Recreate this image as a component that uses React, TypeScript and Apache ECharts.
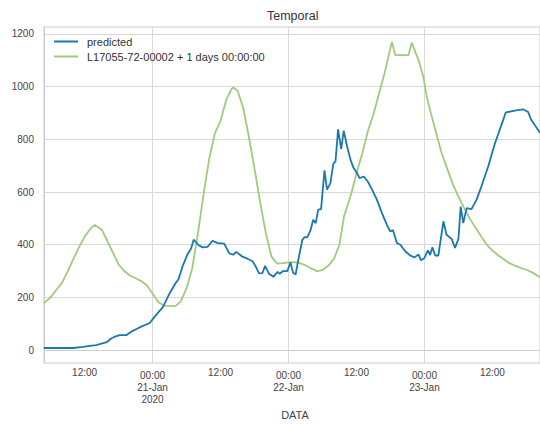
import React, { useEffect, useRef } from "react";
import * as echarts from "echarts";

// x values are hours since 2020-01-20 00:00.
const START_YEAR = 2020;
const START_DAY = 20;
const START_MONTH = "Jan";
const X_MIN_H = 4.835;
const X_MAX_H = 92.4;

const yTicks = [0, 200, 400, 600, 800, 1000, 1200];
const gridHours = [24, 48, 72];
const labelHours = [12, 24, 36, 48, 60, 72, 84];

const predictedHours = [
  4.8, 10, 11.75, 12.9, 14.1, 15, 15.9, 16.75, 17.5, 18.2, 19.4, 20.25, 21.7, 23.5,
  24.35, 25.2, 25.8, 27, 28, 28.6, 29.35, 30.2, 30.8, 31.25, 32.15, 32.85, 33.7,
  34.6, 35.5, 36.65, 37.55, 38.25, 38.8, 39.75, 40.75, 41.65, 42.25, 42.8, 43.4,
  43.85, 44.55, 45.35, 46.05, 46.45, 47.05, 47.8, 48.35, 48.8, 49.25, 49.85, 50.45,
  50.85, 51.3, 51.9, 52.35, 52.8, 53.25, 53.75, 54.35, 54.8, 55.4, 55.9, 56.3,
  56.75, 57.3, 57.75, 58.35, 58.95, 59.5, 60.1, 60.55, 61.3, 62, 62.75, 63.6, 64.5,
  65.35, 65.95, 66.45, 67.15, 67.75, 68.6, 69.5, 70.25, 70.95, 71.4, 72, 72.6, 73,
  73.4, 73.9, 74.45, 75.35, 75.9, 76.8, 77.4, 78, 78.4, 78.85, 79.45, 80.3, 81.2,
  82.05, 83.25, 84.45, 85.6, 86.35, 87.95, 89.4, 90.3, 90.85, 92.4,
];
const predictedValues = [
  8, 8, 12, 16, 19, 25, 30, 45, 52, 57, 57, 70, 86, 103,
  126, 148, 162, 215, 252, 270, 321, 365, 386, 419, 398, 390, 392,
  415, 406, 404, 367, 362, 373, 356, 347, 337, 316, 291, 292,
  320, 290, 278, 297, 290, 300, 300, 333, 294, 287, 356, 419,
  429, 428, 455, 495, 482, 533, 535, 682, 609, 634, 707, 716,
  838, 763, 833, 773, 722, 691, 672, 653, 659, 640, 609, 571, 520,
  476, 451, 455, 406, 400, 375, 359, 352, 363, 341, 350, 379, 361,
  390, 359, 359, 489, 438, 422, 388, 422, 545, 482, 539, 535, 571,
  621, 697, 785, 855, 902, 909, 914, 904, 874, 825,
];

const actualHours = [
  4.8, 6, 7, 8, 9, 10, 11, 12, 13, 13.8, 15, 16, 17, 18, 19, 20, 21, 22, 23, 24,
  25, 26, 27, 28, 29, 30, 31, 32, 33, 34, 35, 36, 37, 38, 38.3, 39, 40, 41, 42, 43,
  44, 45, 46, 47, 48, 49, 50, 51, 52, 53, 54, 55, 56, 57, 57.8, 59, 60, 61, 62, 63,
  64, 65, 66.25, 66.85, 68, 69.2, 69.75, 70.95, 71.8, 72.4, 73, 74, 75, 76, 77, 78,
  79, 80, 81, 82, 83, 84, 85, 86, 87, 88, 89, 90, 91, 92.4,
];
const actualValues = [
  178, 200, 228, 255, 298, 345, 390, 430, 460, 475, 458, 415, 370, 325, 300, 283, 273, 262, 245, 215,
  183, 169, 168, 167, 185, 235, 310, 441, 591, 726, 823, 870, 950, 993, 997, 985, 920, 810, 690, 560,
  444, 355, 328, 330, 333, 334, 330, 322, 310, 300, 304, 320, 345, 400, 508, 588, 670, 745, 830, 895,
  975, 1055, 1170, 1120, 1120, 1120, 1167, 1101, 1038, 962, 910, 830, 750, 690, 630, 583,
  540, 500, 465, 432, 400, 378, 360, 345, 330, 320, 312, 305, 295, 277,
];

const seriesNames = ["predicted", "L17055-72-00002 + 1 days 00:00:00"];
const colors = ["#1a78ad", "#a0cb7e"];

const FONT = "'Liberation Sans', Arial, sans-serif";

export default function App() {
  const ref = useRef<HTMLDivElement>(null);
  useEffect(() => {
    if (!ref.current) return;
    const chart = echarts.init(ref.current, undefined, { renderer: "svg" });
    const richBase = { fontSize: 10, fontFamily: FONT, color: "#444", lineHeight: 12, align: "center" };
    chart.setOption({
      animation: false,
      backgroundColor: "#ffffff",
      title: {
        text: "Temporal",
        left: 262,
        top: 4,
        textStyle: { fontSize: 12.5, fontWeight: "normal", color: "#333", fontFamily: FONT },
      },
      legend: {
        left: 53,
        top: 36,
        padding: 0,
        orient: "vertical",
        itemWidth: 24,
        itemHeight: 11,
        itemGap: 4,
        itemStyle: { opacity: 0 },
        lineStyle: { width: 2 },
        textStyle: { fontSize: 11, color: "#333", fontFamily: FONT, lineHeight: 11, padding: [0, 0, 0, 4] },
        data: seriesNames,
      },
      grid: {
        left: 44,
        top: 27,
        right: -2,
        bottom: 61,
        show: true,
        borderColor: "#cccccc",
        borderWidth: 1,
        backgroundColor: "transparent",
      },
      xAxis: {
        type: "value",
        min: X_MIN_H,
        max: X_MAX_H,
        name: "DATA",
        nameLocation: "middle",
        nameGap: 46,
        nameTextStyle: { fontSize: 11, color: "#444", fontFamily: FONT, padding: [0, 0, 0, 6] },
        axisLine: { show: true, lineStyle: { color: "#cccccc", width: 1 } },
        axisTick: { show: false, customValues: gridHours },
        splitLine: { show: true, lineStyle: { color: "#d9d9d9", width: 1 } },
        axisLabel: {
          customValues: labelHours,
          margin: 3,
          color: "#444",
          fontSize: 10,
          fontFamily: FONT,
          formatter: (v: number) => {
            const h = Math.round(v);
            if (h % 24 === 12) return "{n|12:00}";
            const dayNum = START_DAY + Math.floor(h / 24);
            const day = String(dayNum).padStart(2, "0") + "-" + START_MONTH;
            let s = "{s| }\n{n|00:00}\n{n|" + day + "}";
            if (h === gridHours[0]) s += "\n{n|" + START_YEAR + "}";
            return s;
          },
          rich: {
            n: richBase,
            s: { fontSize: 1, lineHeight: 3, fontFamily: FONT, align: "center" },
          },
        },
      },
      yAxis: {
        type: "value",
        min: -49,
        max: 1226.5,
        axisLine: { show: true, lineStyle: { color: "#cccccc", width: 1 } },
        axisTick: { show: false, customValues: yTicks },
        splitLine: { show: true, lineStyle: { color: "#d9d9d9", width: 1 } },
        axisLabel: {
          customValues: yTicks,
          margin: 10,
          color: "#444",
          fontSize: 10,
          fontFamily: FONT,
          formatter: (v: number) => String(Math.round(v)),
        },
      },
      series: [
        {
          name: seriesNames[0],
          type: "line",
          showSymbol: false,
          symbol: "none",
          color: colors[0],
          lineStyle: { width: 1.8, color: colors[0] },
          data: predictedHours.map((h, i) => [h, predictedValues[i]]),
          z: 3,
        },
        {
          name: seriesNames[1],
          type: "line",
          showSymbol: false,
          symbol: "none",
          color: colors[1],
          lineStyle: { width: 1.8, color: colors[1] },
          data: actualHours.map((h, i) => [h, actualValues[i]]),
          z: 2,
        },
      ],
    });
    return () => chart.dispose();
  }, []);
  return <div ref={ref} style={{ width: 540, height: 425, position: "absolute", left: 0, top: 0 }} />;
}
